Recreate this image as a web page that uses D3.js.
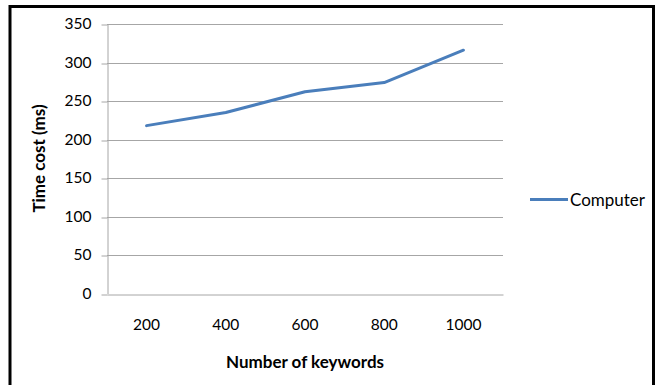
<!DOCTYPE html>
<html>
<head>
<meta charset="utf-8">
<script src="https://cdn.jsdelivr.net/npm/d3@7"></script>
<style>
  html, body { margin: 0; padding: 0; background: #fff; }
  svg { display: block; }
  text { font-family: Lato, "Open Sans", sans-serif; fill: #000; }
</style>
</head>
<body>
<svg id="chart" width="656" height="385"></svg>
<script>
// Time cost per keyword count
const categories = ["200", "400", "600", "800", "1000"];
const computerValues = [218, 235, 262, 274, 316];
const yTicks = [0, 50, 100, 150, 200, 250, 300, 350];
const seriesName = "Computer";

const svg = d3.select("#chart");
const W = 656, H = 385;

// outer frame
svg.append("rect")
  .attr("x", 10).attr("y", 6.5)
  .attr("width", 643.5).attr("height", H + 10)
  .attr("fill", "#fff")
  .attr("stroke", "#000").attr("stroke-width", 3);

const plot = { left: 107, right: 503, top: 24, bottom: 293.5 };

const x = d3.scaleBand().domain(categories).range([plot.left, plot.right]);
const y = d3.scaleLinear().domain([0, 350]).range([plot.bottom, plot.top]);

// horizontal gridlines
svg.append("g")
  .selectAll("line")
  .data(yTicks.filter(d => d > 0))
  .join("line")
  .attr("x1", plot.left).attr("x2", plot.right)
  .attr("y1", d => Math.round(y(d)) + 0.5).attr("y2", d => Math.round(y(d)) + 0.5)
  .attr("stroke", "#a6a6a6").attr("stroke-width", 1);

// y axis
const yAxis = svg.append("g")
  .attr("transform", `translate(${plot.left + 0.5},0)`)
  .call(d3.axisLeft(y).tickValues(yTicks).tickSize(6).tickPadding(10).tickSizeOuter(0));
yAxis.select(".domain").attr("stroke", "#a6a6a6");
yAxis.selectAll(".tick line").attr("stroke", "#a6a6a6")
  .attr("transform", (d) => `translate(0,${Math.round(y(d)) + 0.5 - y(d)})`);
yAxis.selectAll(".tick text").attr("font-size", 15.5).attr("fill", "#000")
  .style("font-family", "Lato, sans-serif");

// x axis
const xAxis = svg.append("g")
  .attr("transform", `translate(0,${Math.round(plot.bottom) + 0.5})`)
  .call(d3.axisBottom(x).tickSize(0).tickPadding(24).tickSizeOuter(0));
xAxis.select(".domain").attr("stroke", "#a6a6a6");
xAxis.selectAll(".tick text").attr("font-size", 15.5).attr("fill", "#000")
  .style("font-family", "Lato, sans-serif");

// data line
const line = d3.line()
  .x((d, i) => x(categories[i]) + x.bandwidth() / 2)
  .y(d => y(d));

svg.append("path")
  .datum(computerValues)
  .attr("d", line)
  .attr("fill", "none")
  .attr("stroke", "#4a7ebb")
  .attr("stroke-width", 3)
  .attr("stroke-linejoin", "round")
  .attr("stroke-linecap", "round");

// axis titles
svg.append("text")
  .attr("x", (plot.left + plot.right) / 2).attr("y", 368)
  .attr("text-anchor", "middle")
  .attr("font-size", 17).attr("font-weight", "bold")
  .text("Number of keywords");

svg.append("text")
  .attr("transform", "translate(45,158.5) rotate(-90)")
  .attr("text-anchor", "middle")
  .attr("font-size", 17).attr("font-weight", "bold")
  .text("Time cost (ms)");

// legend
const legend = svg.append("g").attr("transform", "translate(530,199.5)");
legend.append("line")
  .attr("x1", 0).attr("x2", 38).attr("y1", 0).attr("y2", 0)
  .attr("stroke", "#4a7ebb").attr("stroke-width", 3);
legend.append("text")
  .attr("x", 40).attr("y", 6)
  .attr("font-size", 17)
  .text(seriesName);
</script>
</body>
</html>
